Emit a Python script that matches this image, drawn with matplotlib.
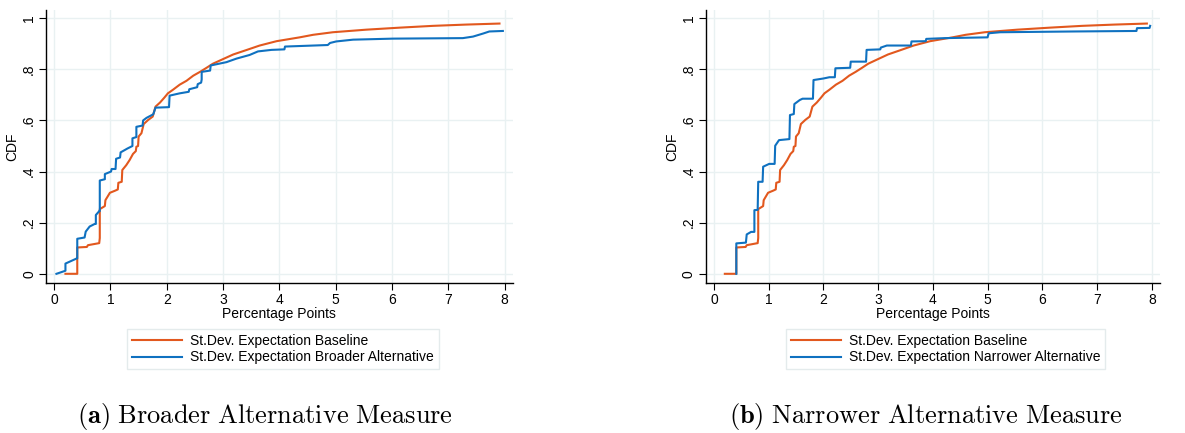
import numpy as np
import matplotlib.pyplot as plt

plt.rcParams['font.family'] = ['Liberation Sans', 'DejaVu Sans']
plt.rcParams['mathtext.fontset'] = 'cm'

# empirical CDF vertices (percentage points, cumulative share)
base_x = [0.2, 0.41, 0.41, 0.58, 0.6, 0.8, 0.81, 0.81, 0.9, 0.91, 0.99, 1.08, 1.13, 1.14,
          1.2, 1.21, 1.28, 1.34, 1.4, 1.45, 1.46, 1.49, 1.5, 1.55, 1.59, 1.67, 1.75, 1.8,
          1.88, 1.96, 2.02, 2.11, 2.23, 2.35, 2.47, 2.59, 2.7, 2.82, 3.0, 3.18, 3.41, 3.65,
          3.95, 4.36, 4.6, 4.95, 5.54, 6.14, 6.73, 7.32, 7.91]
base_y = [0.0, 0.0, 0.103, 0.105, 0.112, 0.12, 0.14, 0.253, 0.265, 0.288, 0.317, 0.325, 0.33, 0.356,
          0.36, 0.406, 0.425, 0.445, 0.469, 0.48, 0.497, 0.5, 0.537, 0.55, 0.586, 0.602, 0.615, 0.654,
          0.67, 0.69, 0.706, 0.72, 0.74, 0.755, 0.775, 0.79, 0.805, 0.822, 0.84, 0.858, 0.875, 0.893,
          0.91, 0.925, 0.935, 0.945, 0.955, 0.963, 0.97, 0.975, 0.979]

broad_x = [0.04, 0.2, 0.2, 0.4, 0.41, 0.41, 0.54, 0.56, 0.63, 0.72, 0.74, 0.74, 0.8, 0.81, 0.81,
           0.9, 0.9, 1.01, 1.02, 1.09, 1.1, 1.17, 1.18, 1.3, 1.39, 1.39, 1.46, 1.46, 1.57, 1.58,
           1.64, 1.76, 1.8, 2.04, 2.05, 2.23, 2.39, 2.4, 2.54, 2.55, 2.61, 2.62, 2.62, 2.77, 2.78,
           3.06, 3.24, 3.47, 3.62, 3.86, 4.09, 4.1, 4.86, 4.9, 5.01, 5.31, 6.02, 7.26, 7.44, 7.62,
           7.73, 7.97]
broad_y = [0.0, 0.012, 0.04, 0.06, 0.06, 0.137, 0.142, 0.165, 0.185, 0.195, 0.195, 0.23, 0.245, 0.245, 0.365,
           0.37, 0.39, 0.40, 0.41, 0.41, 0.45, 0.455, 0.475, 0.49, 0.5, 0.53, 0.535, 0.575, 0.58, 0.6,
           0.61, 0.624, 0.65, 0.652, 0.697, 0.706, 0.712, 0.722, 0.73, 0.742, 0.748, 0.76, 0.79, 0.795, 0.815,
           0.828, 0.842, 0.856, 0.87, 0.876, 0.878, 0.889, 0.895, 0.903, 0.909, 0.916, 0.92, 0.922, 0.928, 0.94,
           0.948, 0.95]

narrow_x = [0.41, 0.41, 0.585, 0.6, 0.68, 0.74, 0.74, 0.8, 0.81, 0.89, 0.9, 1.01, 1.11, 1.12, 1.19,
            1.38, 1.39, 1.46, 1.47, 1.57, 1.62, 1.81, 1.82, 2.0, 2.11, 2.21, 2.22, 2.49, 2.5, 2.78,
            2.79, 3.04, 3.05, 3.16, 3.6, 3.61, 3.87, 3.88, 4.22, 5.0, 5.02, 5.23, 6.57, 7.72, 7.73,
            7.96, 7.97]
narrow_y = [0.0, 0.119, 0.122, 0.154, 0.164, 0.164, 0.249, 0.25, 0.36, 0.36, 0.419, 0.43, 0.43, 0.501, 0.523,
            0.527, 0.621, 0.625, 0.664, 0.68, 0.685, 0.685, 0.758, 0.764, 0.769, 0.769, 0.804, 0.806, 0.83, 0.83,
            0.876, 0.878, 0.885, 0.893, 0.893, 0.909, 0.91, 0.919, 0.922, 0.925, 0.941, 0.945, 0.948, 0.95, 0.961,
            0.962, 0.97]

base_label = 'St.Dev. Expectation Baseline'
panels = [
    (broad_x, broad_y, 'St.Dev. Expectation Broader Alternative',
     r'$\mathbf{(a)}$ $\mathrm{Broader\ Alternative\ Measure}$'),
    (narrow_x, narrow_y, 'St.Dev. Expectation Narrower Alternative',
     r'$\mathbf{(b)}$ $\mathrm{Narrower\ Alternative\ Measure}$'),
]

orange = '#e2581e'
blue = '#0f71c0'
grid_c = '#e9f1f2'
fs = 10

fig = plt.figure(figsize=(11.85, 4.33), dpi=100)
boxes = [[0.0386, 0.3464, 0.3943, 0.6305], [0.5955, 0.3464, 0.3834, 0.6305]]
legend_cx = [0.2388, 0.798]
caption_cx = [0.2236, 0.7814]

for i, (ax_x, ax_y, alt_label, caption) in enumerate(panels):
    ax = fig.add_axes(boxes[i])
    ax.plot(base_x, base_y, color=orange, lw=1.5, label=base_label)
    ax.plot(ax_x, ax_y, color=blue, lw=1.5, label=alt_label)

    ax.set_xlim(-0.15, 8.15)
    ax.set_ylim(-0.036, 1.032)
    ax.set_xticks(range(9))
    ax.set_yticks([0, 0.2, 0.4, 0.6, 0.8, 1.0])
    ax.set_yticklabels(['0', '.2', '.4', '.6', '.8', '1'], rotation=90, va='center')
    ax.grid(True, color=grid_c, lw=1.0)
    ax.set_axisbelow(True)
    for s in ['top', 'right']:
        ax.spines[s].set_visible(False)
    for s in ['left', 'bottom']:
        ax.spines[s].set_linewidth(1.0)
    ax.tick_params(direction='out', length=5, width=0.8, labelsize=fs, pad=2)
    ax.set_xlabel('Percentage Points', fontsize=fs, labelpad=0)
    ax.set_ylabel('CDF', fontsize=fs, labelpad=2)

    handles, labels = ax.get_legend_handles_labels()
    fig.legend(handles, labels, loc='center', bbox_to_anchor=(legend_cx[i], 0.194),
               fontsize=fs, handlelength=3.6, handletextpad=0.6, labelspacing=0.2,
               borderpad=0.35, borderaxespad=0, fancybox=False, edgecolor='#e4ebec', framealpha=1)

    fig.text(caption_cx[i], 1 - 417 / 433, caption, ha='center', va='center', fontsize=19)

fig.savefig('out.png', dpi=100)
